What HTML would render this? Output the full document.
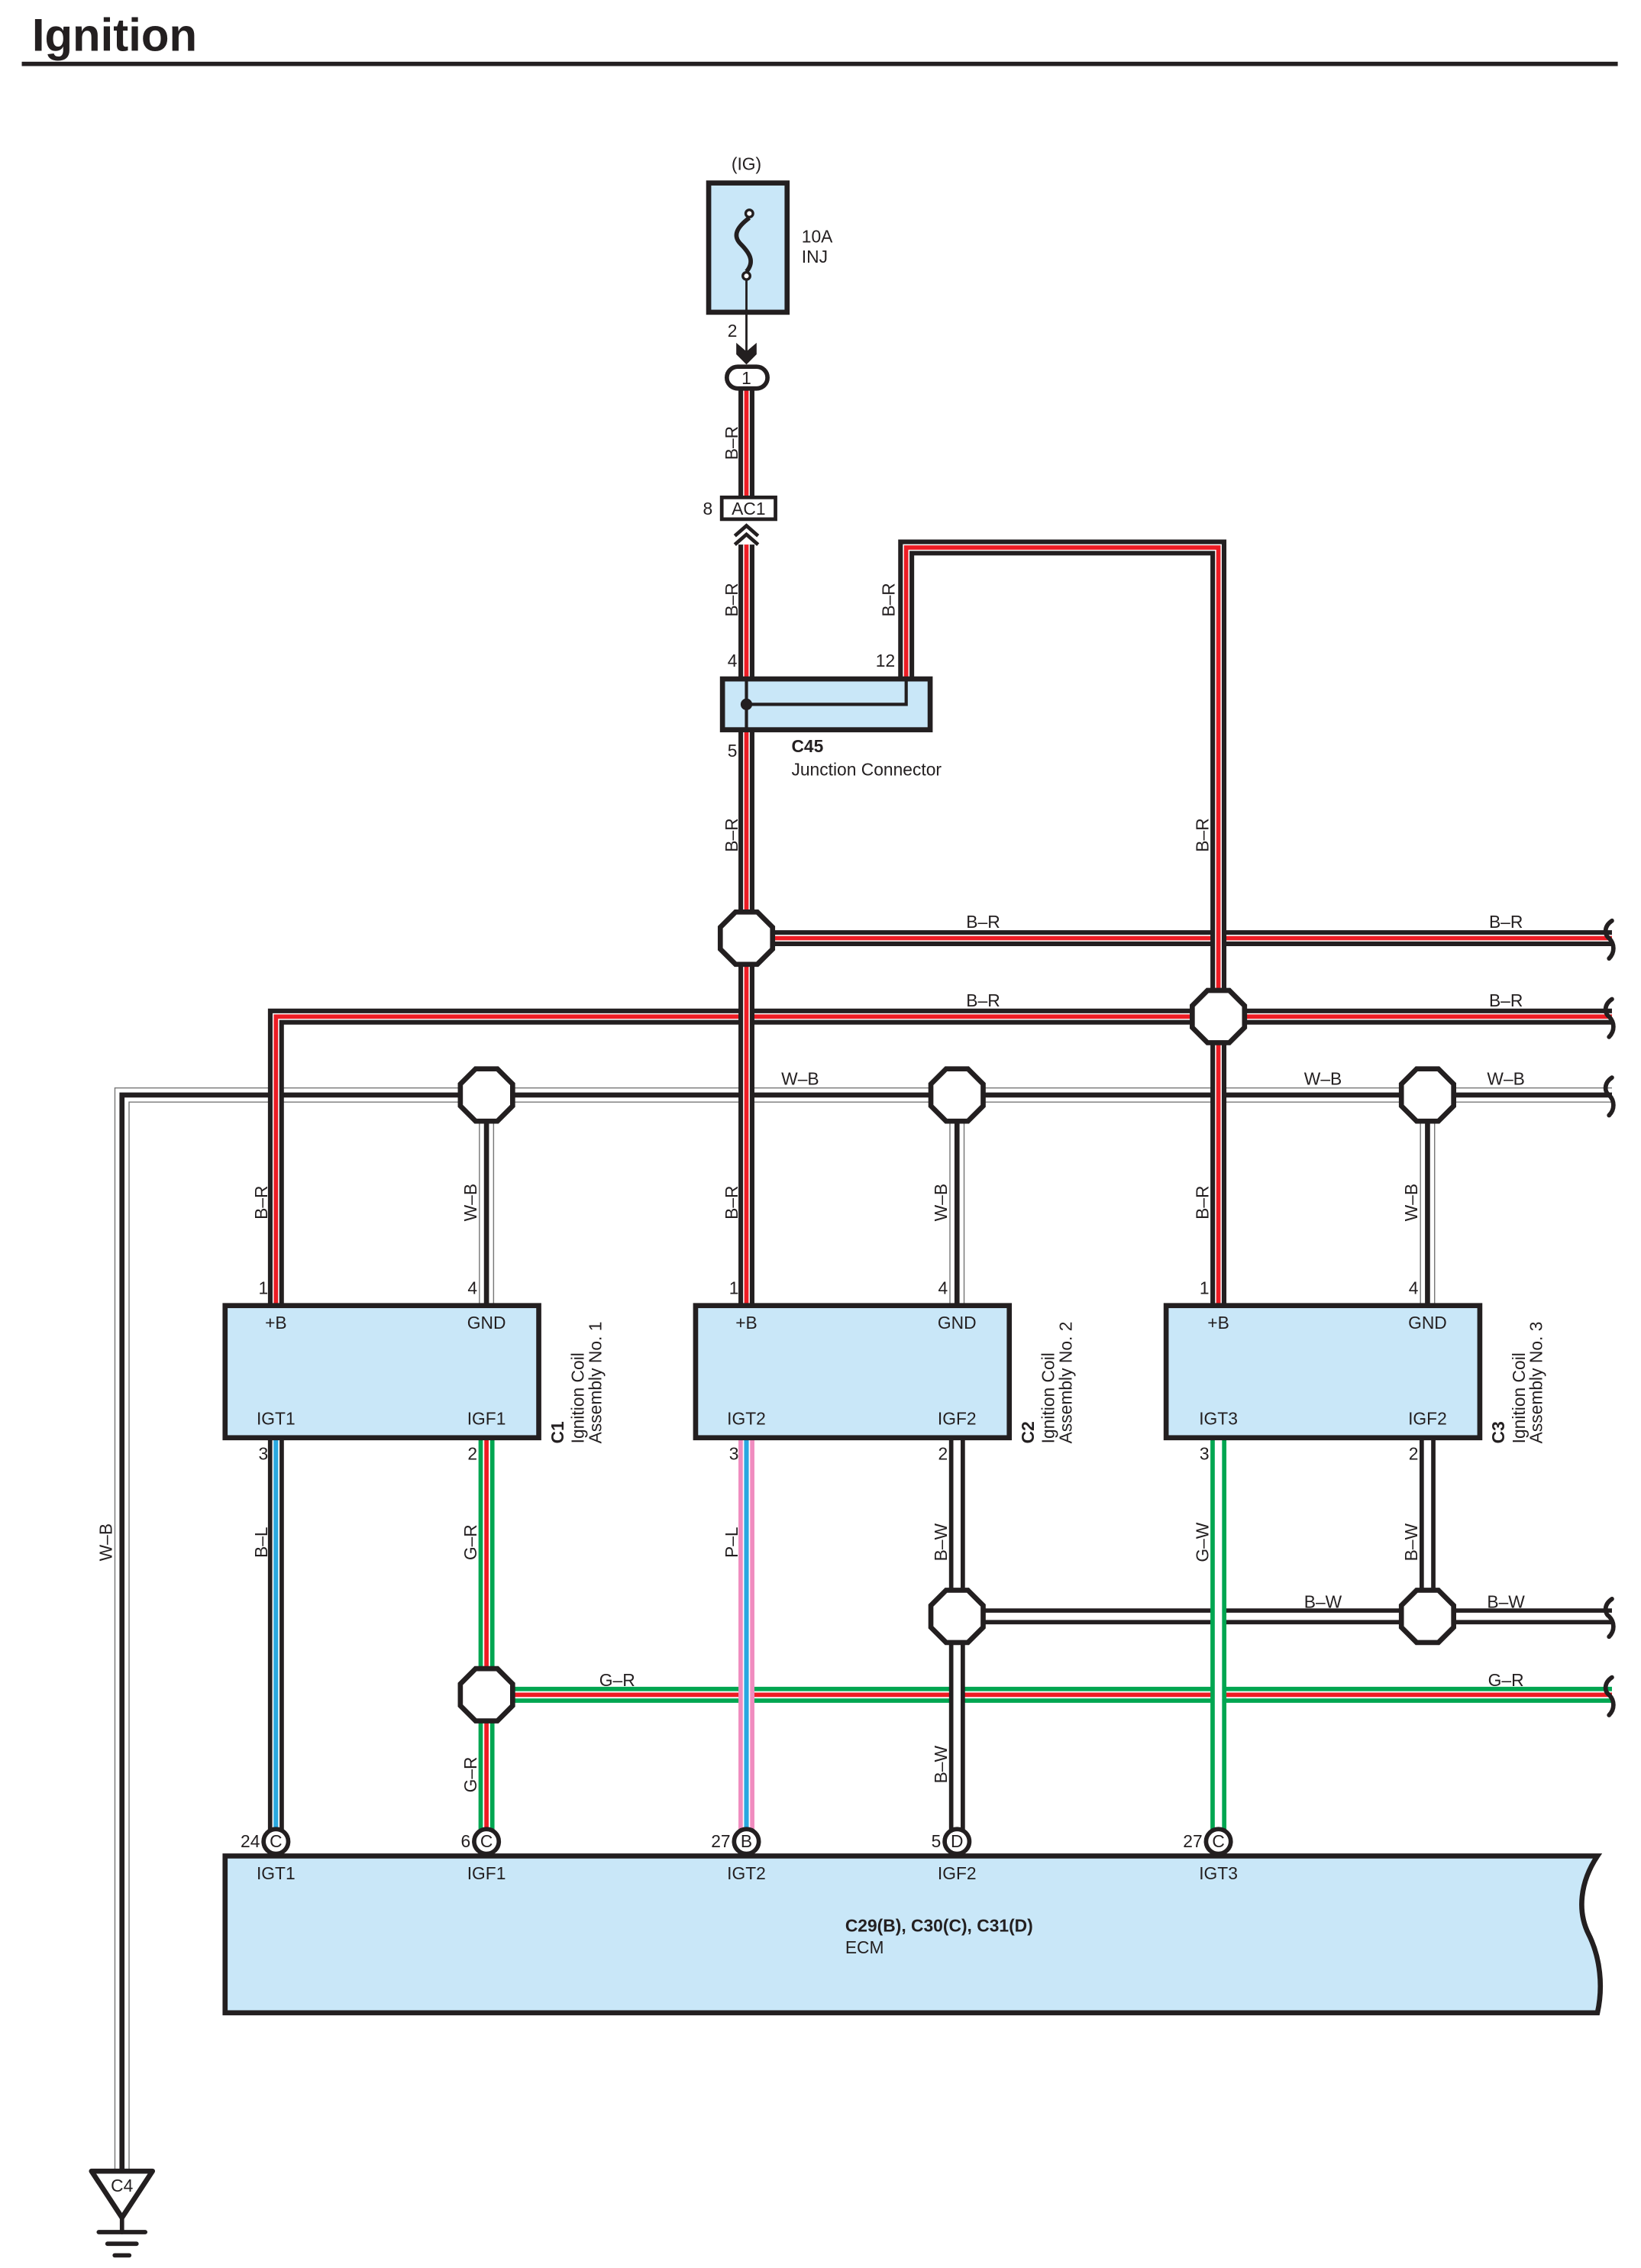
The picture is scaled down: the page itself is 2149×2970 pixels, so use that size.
<!DOCTYPE html>
<html><head><meta charset="utf-8"><style>
html,body{margin:0;padding:0;background:#fff}
svg{display:block}
text{font-family:"Liberation Sans",Arial,sans-serif;fill:#231f20}
.l{font-size:12px}
.b{font-weight:bold}
</style></head><body>
<svg width="2149" height="2970" viewBox="0 0 1130 1561.7" xmlns="http://www.w3.org/2000/svg">
<defs>
<path id="wb1" d="M1110 754 H84 V1495"/>
<path id="wb2" d="M335 754 V899"/>
<path id="wb3" d="M659 754 V899"/>
<path id="wb4" d="M983 754 V899"/>
<path id="br1" d="M514 268 V342"/>
<path id="br2" d="M514 375 V467"/>
<path id="br3" d="M514 503 V646 H1110"/>
<path id="br4" d="M1110 700 H190 V899"/>
<path id="br5" d="M514 646 V899"/>
<path id="br6" d="M624 467 V377 H839 V899"/>
<path id="gr1" d="M1110 1167 H335"/>
<path id="gr2" d="M335 990 V1262"/>
<path id="bw1" d="M1110 1113 H659"/>
<path id="bw2" d="M659 990 V1262"/>
<path id="bw3" d="M983 990 V1113"/>
<path id="bl" d="M190 990 V1262"/>
<path id="pl" d="M514 990 V1262"/>
<path id="gw" d="M839 990 V1262"/>
</defs>

<text x="22" y="35" font-size="31.5" style="font-weight:bold">Ignition</text>
<rect x="15" y="42.5" width="1099" height="3" fill="#231f20"/>

<!-- fuse -->
<text x="514" y="117" class="l" text-anchor="middle">(IG)</text>
<rect x="488" y="126" width="54" height="89" fill="#c9e7f8" stroke="#231f20" stroke-width="3.5"/>
<text x="552" y="167" class="l">10A</text>
<text x="552" y="181" class="l">INJ</text>
<path d="M516 150 C508 156,504 162,510 168 C516 174,520 180,514 187" fill="none" stroke="#231f20" stroke-width="3"/>
<circle cx="516" cy="147" r="2.5" fill="#fff" stroke="#231f20" stroke-width="1.8"/>
<circle cx="514" cy="190" r="2.5" fill="#fff" stroke="#231f20" stroke-width="1.8"/>
<line x1="514" y1="192" x2="514" y2="244" stroke="#231f20" stroke-width="1.5"/>
<text x="501" y="232" class="l">2</text>
<polygon points="507,236 514,242 521,236 521,244 514,251 507,244" fill="#231f20"/>

<!-- wires: W-B -->
<g fill="none">
<g stroke="#777" stroke-width="10.5"><use href="#wb1"/><use href="#wb2"/><use href="#wb3"/><use href="#wb4"/></g>
<g stroke="#fff" stroke-width="9"><use href="#wb1"/><use href="#wb2"/><use href="#wb3"/><use href="#wb4"/></g>
<g stroke="#231f20" stroke-width="3.5"><use href="#wb1"/><use href="#wb2"/><use href="#wb3"/><use href="#wb4"/></g>
</g>
<!-- B-R -->
<g fill="none">
<use href="#br1" stroke="#231f20" stroke-width="11"/><use href="#br1" stroke="#fff" stroke-width="4.6"/><use href="#br1" stroke="#ed1c24" stroke-width="3"/>
<use href="#br2" stroke="#231f20" stroke-width="11"/><use href="#br2" stroke="#fff" stroke-width="4.6"/><use href="#br2" stroke="#ed1c24" stroke-width="3"/>
<use href="#br3" stroke="#231f20" stroke-width="11"/><use href="#br3" stroke="#fff" stroke-width="4.6"/><use href="#br3" stroke="#ed1c24" stroke-width="3"/>
<use href="#br4" stroke="#231f20" stroke-width="11"/><use href="#br4" stroke="#fff" stroke-width="4.6"/><use href="#br4" stroke="#ed1c24" stroke-width="3"/>
<use href="#br5" stroke="#231f20" stroke-width="11"/><use href="#br5" stroke="#fff" stroke-width="4.6"/><use href="#br5" stroke="#ed1c24" stroke-width="3"/>
<use href="#br6" stroke="#231f20" stroke-width="11"/><use href="#br6" stroke="#fff" stroke-width="4.6"/><use href="#br6" stroke="#ed1c24" stroke-width="3"/>
<use href="#bw1" stroke="#231f20" stroke-width="11"/><use href="#bw1" stroke="#fff" stroke-width="5"/>
<use href="#gr1" stroke="#00a651" stroke-width="11"/><use href="#gr1" stroke="#fff" stroke-width="5"/><use href="#gr1" stroke="#ed1c24" stroke-width="3"/>
<use href="#gr2" stroke="#00a651" stroke-width="11"/><use href="#gr2" stroke="#fff" stroke-width="5"/><use href="#gr2" stroke="#ed1c24" stroke-width="3"/>
<use href="#bw2" stroke="#231f20" stroke-width="11"/><use href="#bw2" stroke="#fff" stroke-width="5"/>
<use href="#bw3" stroke="#231f20" stroke-width="11"/><use href="#bw3" stroke="#fff" stroke-width="5"/>
<use href="#bl" stroke="#231f20" stroke-width="11"/><use href="#bl" stroke="#fff" stroke-width="5"/><use href="#bl" stroke="#29a8e0" stroke-width="3.2"/>
<use href="#pl" stroke="#f08cbf" stroke-width="11"/><use href="#pl" stroke="#fff" stroke-width="5"/><use href="#pl" stroke="#29a8e0" stroke-width="3.2"/>
<use href="#gw" stroke="#00a651" stroke-width="11"/><use href="#gw" stroke="#fff" stroke-width="5"/>
</g>

<rect x="500.5" y="252.5" width="28" height="15" rx="7.5" fill="#fff" stroke="#231f20" stroke-width="3"/>
<text x="514" y="264.5" class="l" text-anchor="middle" font-size="11">1</text>
<rect x="497" y="342.5" width="37" height="15" fill="#fff" stroke="#231f20" stroke-width="2.5"/>
<text x="515.5" y="354.5" class="l" text-anchor="middle">AC1</text>
<text x="484" y="354.5" class="l">8</text>
<g fill="none" stroke="#231f20" stroke-width="2.5">
<polyline points="506,369 514,362 522,369"/><polyline points="506,375 514,368 522,375"/>
</g>

<rect x="497.5" y="467.5" width="143" height="35" fill="#c9e7f8" stroke="#231f20" stroke-width="3.5"/>
<path d="M514 469 V501 M514 485 H624 V469" fill="none" stroke="#231f20" stroke-width="2.2"/>
<circle cx="514" cy="485" r="4" fill="#231f20"/>
<text x="501" y="459" class="l">4</text>
<text x="603" y="459" class="l">12</text>
<text x="501" y="521" class="l">5</text>
<text x="545" y="518" class="l" style="font-weight:bold">C45</text>
<text x="545" y="534" class="l">Junction Connector</text>

<g fill="none" stroke="#231f20" stroke-width="3" stroke-linecap="round">
<path d="M1110 634 C1104 638,1105 644,1108 646 C1112 650,1112 656,1108 660"/>
<path d="M1110 688 C1104 692,1105 698,1108 700 C1112 704,1112 710,1108 714"/>
<path d="M1110 742 C1104 746,1105 752,1108 754 C1112 758,1112 764,1108 768"/>
<path d="M1110 1101 C1104 1105,1105 1111,1108 1113 C1112 1117,1112 1123,1108 1127"/>
<path d="M1110 1155 C1104 1159,1105 1165,1108 1167 C1112 1171,1112 1177,1108 1181"/>
</g>

<g fill="#fff" stroke="#231f20" stroke-width="3.5">
<polygon id="oct" points="-7.5,-18 7.5,-18 18,-7.5 18,7.5 7.5,18 -7.5,18 -18,7.5 -18,-7.5" transform="translate(514,646)"/>
<use href="#oct" transform="translate(325,54)"/>
<use href="#oct" transform="translate(-179,108)"/>
<use href="#oct" transform="translate(145,108)"/>
<use href="#oct" transform="translate(469,108)"/>
<use href="#oct" transform="translate(145,467)"/>
<use href="#oct" transform="translate(469,467)"/>
<use href="#oct" transform="translate(-179,521)"/>
</g>

<g class="l" text-anchor="middle">
<text x="677" y="639">B–R</text><text x="1037" y="639">B–R</text>
<text x="677" y="693">B–R</text><text x="1037" y="693">B–R</text>
<text x="551" y="747">W–B</text><text x="911" y="747">W–B</text><text x="1037" y="747">W–B</text>
<text x="911" y="1107">B–W</text><text x="1037" y="1107">B–W</text>
<text x="425" y="1161">G–R</text><text x="1037" y="1161">G–R</text>
</g>
<g class="l" text-anchor="middle">
<text transform="translate(508,305) rotate(-90)">B–R</text>
<text transform="translate(508,413) rotate(-90)">B–R</text>
<text transform="translate(616,413) rotate(-90)">B–R</text>
<text transform="translate(508,575) rotate(-90)">B–R</text>
<text transform="translate(832,575) rotate(-90)">B–R</text>
<text transform="translate(184,828) rotate(-90)">B–R</text>
<text transform="translate(328,828) rotate(-90)">W–B</text>
<text transform="translate(508,828) rotate(-90)">B–R</text>
<text transform="translate(652,828) rotate(-90)">W–B</text>
<text transform="translate(832,828) rotate(-90)">B–R</text>
<text transform="translate(976,828) rotate(-90)">W–B</text>
<text transform="translate(77,1062) rotate(-90)">W–B</text>
<text transform="translate(184,1062) rotate(-90)">B–L</text>
<text transform="translate(328,1062) rotate(-90)">G–R</text>
<text transform="translate(508,1062) rotate(-90)">P–L</text>
<text transform="translate(652,1062) rotate(-90)">B–W</text>
<text transform="translate(832,1062) rotate(-90)">G–W</text>
<text transform="translate(976,1062) rotate(-90)">B–W</text>
<text transform="translate(328,1222) rotate(-90)">G–R</text>
<text transform="translate(652,1215) rotate(-90)">B–W</text>
</g>

<g fill="#c9e7f8" stroke="#231f20" stroke-width="3.5">
<rect x="155" y="899" width="216" height="91"/>
<rect x="479" y="899" width="216" height="91"/>
<rect x="803" y="899" width="216" height="91"/>
</g>
<g class="l">
<text x="178" y="891">1</text><text x="322" y="891">4</text><text x="178" y="1005">3</text><text x="322" y="1005">2</text>
<text x="502" y="891">1</text><text x="646" y="891">4</text><text x="502" y="1005">3</text><text x="646" y="1005">2</text>
<text x="826" y="891">1</text><text x="970" y="891">4</text><text x="826" y="1005">3</text><text x="970" y="1005">2</text>
</g>
<g class="l" text-anchor="middle">
<text x="190" y="915">+B</text><text x="335" y="915">GND</text><text x="190" y="981">IGT1</text><text x="335" y="981">IGF1</text>
<text x="514" y="915">+B</text><text x="659" y="915">GND</text><text x="514" y="981">IGT2</text><text x="659" y="981">IGF2</text>
<text x="839" y="915">+B</text><text x="983" y="915">GND</text><text x="839" y="981">IGT3</text><text x="983" y="981">IGF2</text>
</g>
<g class="l">
<text transform="translate(388,994) rotate(-90)" style="font-weight:bold">C1</text>
<text transform="translate(402,994) rotate(-90)">Ignition Coil</text>
<text transform="translate(414,994) rotate(-90)">Assembly No. 1</text>
<text transform="translate(712,994) rotate(-90)" style="font-weight:bold">C2</text>
<text transform="translate(726,994) rotate(-90)">Ignition Coil</text>
<text transform="translate(738,994) rotate(-90)">Assembly No. 2</text>
<text transform="translate(1036,994) rotate(-90)" style="font-weight:bold">C3</text>
<text transform="translate(1050,994) rotate(-90)">Ignition Coil</text>
<text transform="translate(1062,994) rotate(-90)">Assembly No. 3</text>
</g>

<path d="M155 1278 H1100 C1088 1296,1086 1316,1094 1332 C1102 1348,1104 1368,1100 1386 H155 Z" fill="#c9e7f8" stroke="#231f20" stroke-width="3.5"/>
<g fill="#fff" stroke="#231f20" stroke-width="3">
<circle cx="190" cy="1268" r="8.5"/><circle cx="335" cy="1268" r="8.5"/><circle cx="514" cy="1268" r="8.5"/><circle cx="659" cy="1268" r="8.5"/><circle cx="839" cy="1268" r="8.5"/>
</g>
<g class="l" text-anchor="middle" font-size="11">
<text x="190" y="1272">C</text><text x="335" y="1272">C</text><text x="514" y="1272">B</text><text x="659" y="1272">D</text><text x="839" y="1272">C</text>
</g>
<g class="l" text-anchor="end">
<text x="179" y="1272">24</text><text x="324" y="1272">6</text><text x="503" y="1272">27</text><text x="648" y="1272">5</text><text x="828" y="1272">27</text>
</g>
<g class="l" text-anchor="middle">
<text x="190" y="1294">IGT1</text><text x="335" y="1294">IGF1</text><text x="514" y="1294">IGT2</text><text x="659" y="1294">IGF2</text><text x="839" y="1294">IGT3</text>
</g>
<text x="582" y="1330" class="l" style="font-weight:bold">C29(B), C30(C), C31(D)</text>
<text x="582" y="1345" class="l">ECM</text>

<polygon points="63,1495 105,1495 84,1527" fill="#fff" stroke="#231f20" stroke-width="3.5" stroke-linejoin="round"/>
<text x="84" y="1509" class="l" text-anchor="middle">C4</text>
<g stroke="#231f20" stroke-width="3" stroke-linecap="round">
<line x1="84" y1="1527" x2="84" y2="1537"/>
<line x1="68" y1="1537" x2="100" y2="1537"/>
<line x1="74" y1="1545" x2="94" y2="1545"/>
<line x1="79" y1="1553" x2="89" y2="1553"/>
</g>
</svg>
</body></html>
